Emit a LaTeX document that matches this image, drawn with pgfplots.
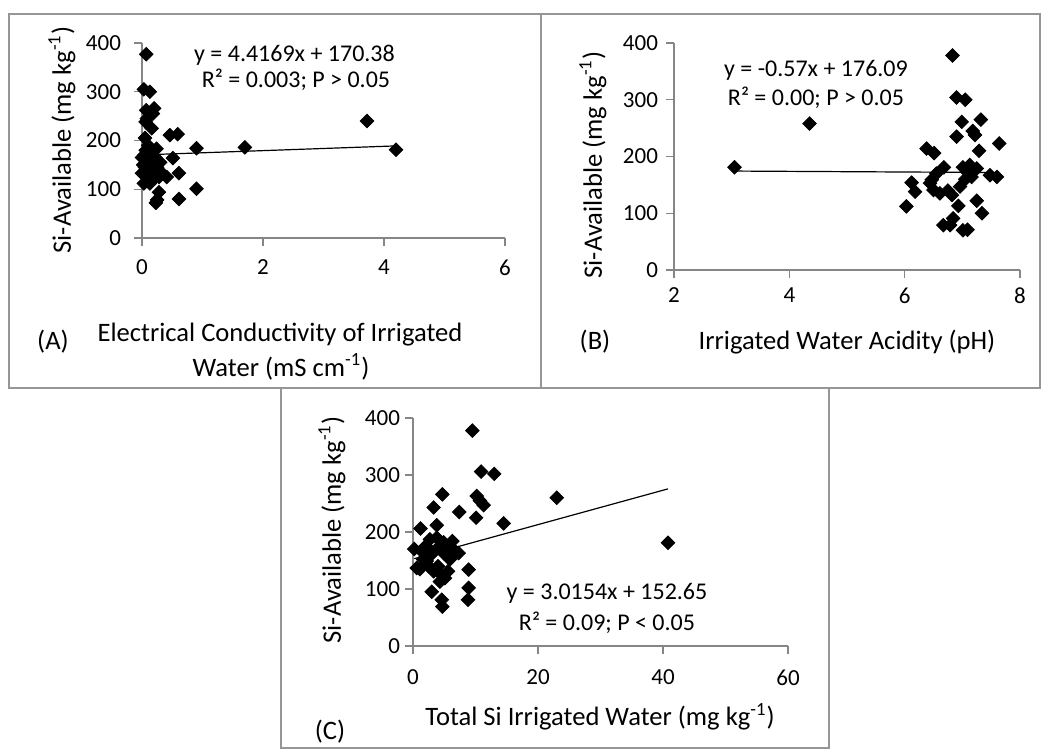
\documentclass[border=0pt]{standalone}
\usepackage{fontspec}
\setmainfont{Carlito}
\usepackage{pgfplots}
\pgfplotsset{compat=1.18}

\definecolor{axgray}{RGB}{134,134,134}
\definecolor{framegray}{RGB}{150,150,150}

\pgfplotsset{
  excel/.style={
    scale only axis,
    anchor=south west,
    axis lines*=left,
    axis line style={draw=axgray, line width=0.6pt},
    tick style={draw=axgray, line width=0.6pt},
    tick align=outside,
    major tick length=4pt,
    ymin=0, ymax=400, ytick={0,100,200,300,400},
    tick label style={font=\fontsize{11.5}{13}\selectfont},
    /pgf/number format/assume math mode=true,
    clip=false,
  },
  dots/.style={only marks, mark=square*, mark size=2.4pt,
    mark options={rotate=45, fill=black, draw=black}},
  trend/.style={black, line width=0.6pt, no marks},
}

\newcommand{\lab}{\fontsize{13.3}{15}\selectfont}
\newcommand{\eqf}{\fontsize{12}{14}\selectfont}

\begin{document}
\begin{tikzpicture}
\path[use as bounding box] (0,0) rectangle (520.5pt,378pt);

% panel frames
\draw[framegray, line width=0.6pt] (4.5pt,371pt) rectangle (270.5pt,184pt);
\draw[framegray, line width=0.6pt] (270.5pt,371pt) rectangle (520pt,184pt);
\draw[framegray, line width=0.6pt] (140.5pt,184pt) rectangle (414.5pt,4pt);

% (A) EC of irrigated water
\begin{axis}[excel, at={(71pt,259pt)}, width=181.5pt, height=97.5pt,
  xmin=0, xmax=6, xtick={0,2,4,6},
  yticklabel style={xshift=-3pt}, xticklabel style={yshift=-3.3pt}]
\addplot[dots] coordinates {
(0.07,377) (0.03,305) (0.13,300) (0.07,262) (0.20,266) (0.18,255)
(0.08,245) (0.06,238) (0.16,225) (0.05,205) (0.46,211) (0.59,213)
(0.90,184) (1.70,186) (3.72,240) (4.20,181) (0.51,164) (0.61,133)
(0.90,101) (0.61,80) (0.28,94) (0.23,72) (0.25,78) (0.41,125)
(0.33,133) (0.24,183) (0.03,112) (0.13,112) (0.00,133) (0.00,165)
(0.02,150) (0.06,180) (0.10,170) (0.15,160) (0.20,150) (0.12,140)
(0.08,125) (0.18,130) (0.25,145) (0.30,155) (0.05,145) (0.10,190)
(0.14,175) (0.22,165) (0.04,170) (0.28,125) (0.16,118)
};
\addplot[trend] coordinates {(0.03,170.51) (4.20,188.93)};
\end{axis}

% (B) pH of irrigated water
\begin{axis}[excel, at={(337pt,243pt)}, width=173pt, height=113.5pt,
  xmin=2, xmax=8, xtick={2,4,6,8},
  yticklabel style={xshift=-0.5pt}, xticklabel style={yshift=-1.3pt}]
\addplot[dots] coordinates {
(3.05,181) (4.35,258) (6.83,378) (6.90,304) (7.05,300) (6.99,261)
(7.32,265) (7.18,245) (7.22,238) (6.90,235) (7.64,223) (6.38,214)
(6.51,206) (7.29,210) (6.68,181) (7.01,181) (7.13,185) (7.25,179)
(7.08,173) (7.16,164) (7.48,167) (7.60,164) (6.55,170) (6.47,159)
(6.12,154) (6.18,138) (6.50,141) (6.61,135) (6.82,132) (6.96,147)
(7.25,122) (6.93,113) (6.03,112) (7.34,100) (6.84,91) (6.67,79)
(6.79,79) (7.01,70) (7.09,71) (6.44,153) (6.75,140) (7.05,160)
};
\addplot[trend] coordinates {(3.05,174.35) (7.64,171.74)};
\end{axis}

% (C) total Si of irrigated water
\begin{axis}[excel, at={(206.5pt,55pt)}, width=187.5pt, height=114pt,
  xmin=0, xmax=60, xtick={0,20,40,60},
  yticklabel style={xshift=1pt}, xticklabel style={yshift=-4.3pt}]
\addplot[dots] coordinates {
(9.5,378) (10.9,306) (13.0,302) (4.7,266) (23.0,260) (10.2,263)
(10.7,255) (11.3,247) (3.3,243) (7.4,235) (10.1,225) (14.5,215)
(3.8,212) (1.2,206) (0.2,170) (2.7,187) (4.9,182) (6.3,184)
(7.3,163) (8.9,134) (8.9,102) (8.8,81) (3.0,95) (4.6,81)
(4.7,69) (0.6,137) (1.1,135) (2.2,149) (3.3,131) (4.3,113)
(5.1,119) (5.6,131) (5.9,152) (4.9,163) (3.8,170) (2.7,158)
(1.6,152) (5.4,175) (3.8,190) (6.5,169) (6.2,158) (40.8,181)
(2.0,175) (3.0,165) (4.0,140) (4.5,125) (2.5,140) (1.5,165)
};
\addplot[trend] coordinates {(0.2,153.25) (40.8,275.68)};
\end{axis}

% axis titles and equations
\node[rotate=90, font=\lab] at (31pt,308pt) {Si-Available (mg kg\textsuperscript{-1})};
\node[rotate=90, font=\lab] at (296.5pt,295.5pt) {Si-Available (mg kg\textsuperscript{-1})};
\node[rotate=90, font=\lab] at (166pt,113pt) {Si-Available (mg kg\textsuperscript{-1})};

\node[font=\lab] at (140pt,210.5pt) {Electrical Conductivity of Irrigated};
\node[font=\lab] at (140.5pt,194.5pt) {Water (mS cm\textsuperscript{-1})};
\node[font=\lab] at (26.5pt,207pt) {(A)};
\node[font=\lab] at (297.5pt,207pt) {(B)};
\node[font=\lab] at (423.5pt,207pt) {Irrigated Water Acidity (pH)};
\node[font=\lab] at (165pt,12pt) {(C)};
\node[font=\lab] at (300pt,19.5pt) {Total Si Irrigated Water (mg kg\textsuperscript{-1})};

\node[font=\eqf] at (147.25pt,350.5pt) {y = 4.4169x + 170.38};
\node[font=\eqf] at (148pt,338pt) {R² = 0.003; P > 0.05};
\node[font=\eqf] at (408pt,343pt) {y = -0.57x + 176.09};
\node[font=\eqf] at (408pt,329pt) {R² = 0.00; P > 0.05};
\node[font=\eqf] at (303.5pt,81.5pt) {y = 3.0154x + 152.65};
\node[font=\eqf] at (303.5pt,66.5pt) {R² = 0.09; P < 0.05};
\end{tikzpicture}
\end{document}
